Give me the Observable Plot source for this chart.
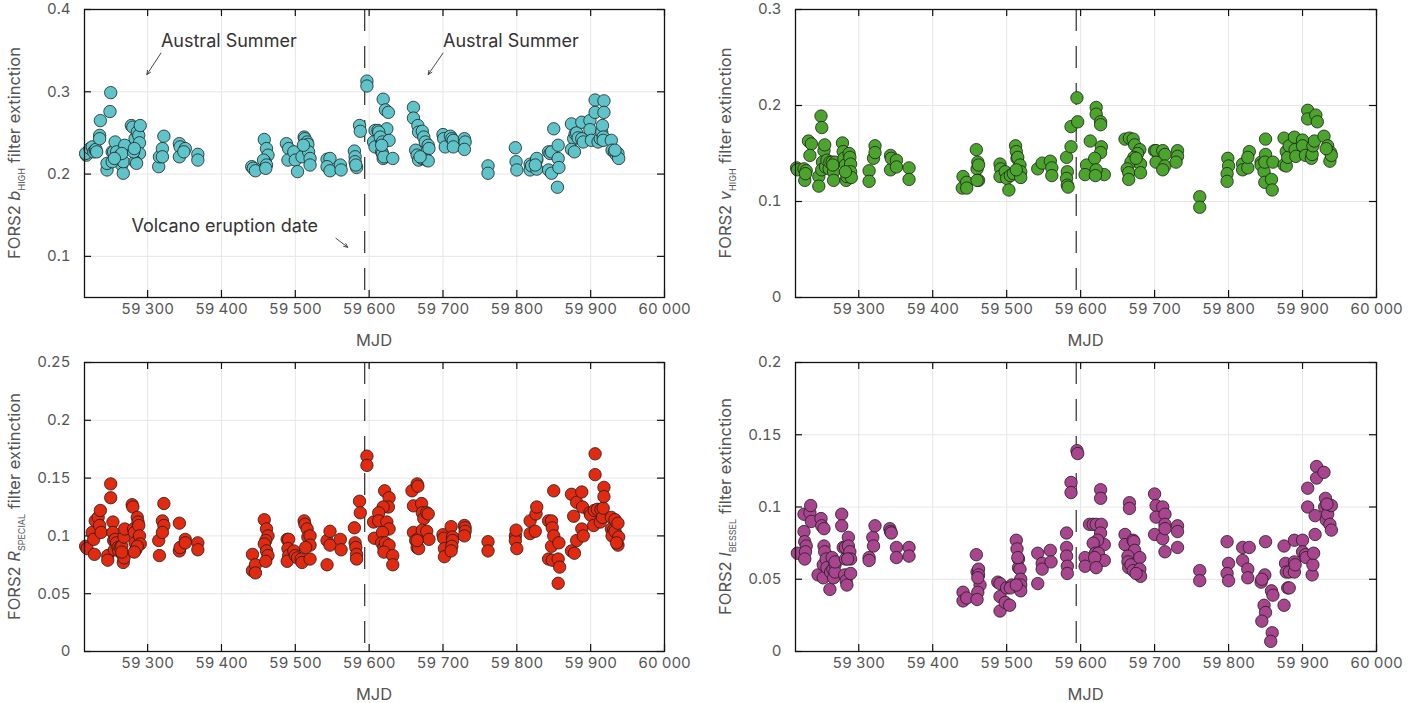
<!DOCTYPE html>
<html>
<head>
<meta charset="utf-8">
<script src="https://cdn.jsdelivr.net/npm/d3@7"></script>
<script src="https://cdn.jsdelivr.net/npm/@observablehq/plot@0.6"></script>
<style>
  html, body { margin: 0; padding: 0; background: #fff; }
  #wrap { position: relative; width: 1423px; height: 703px; overflow: hidden; }
  .panel { position: absolute; }
  .panel svg { display: block; }
</style>
</head>
<body>
<div id="wrap"></div>
<script>
// ---------- shared axis data ----------
const xTicks = [59300, 59400, 59500, 59600, 59700, 59800, 59900, 60000];
const mjdDomain = [59214.5, 60000];
const eruptionMJD = [59594];

// ---------- FORS2 b_HIGH ----------
const bHighMJD = [
59217,59216,59222,59225,59227,59229,59230,59231,59235,59236,59235,
59250,59249,59245,59245,59252,59254,59256,59258,59261,59263,59265,59267,59267,59269,59265,59252,59255,
59278,59280,59283,59286,59288,59290,59289,59289,59283,59285,59281,59282,
59315,59316,59320,59322,59320,
59343,59344,59351,59343,59349,
59368,59368,
59441,59443,59446,
59458,59461,59463,59459,59457,59461,59460,
59488,59491,59490,59498,59500,59503,59509,59512,59513,59516,59517,59518,59520,59520,59511,
59543,59547,59543,59547,59561,59562,
59580,59581,59581,59583,59582,59587,59588,59597,59597,
59619,59622,59608,59612,59606,59608,59617,59617,59619,59626,59624,59613,59615,59618,59627,59618,59620,59632,59617,
59660,59660,59666,59667,59672,59674,59676,59680,59681,59663,59665,59667,59672,59678,59680,59669,
59700,59701,59703,59710,59712,59714,59714,59729,59730,59729,
59761,59761,
59798,59799,59800,
59818,59818,59820,59827,59827,59827,59825,
59843,59845,59847,59850,59843,59847,59856,59856,59857,59855,
59874,59877,59874,59878,59879,59881,59883,59888,59888,59890,
59899,59899,59901,59906,59906,59910,59913,59915,59916,59917,59918,59918,59917,
59928,59929,59932,59935,59937,59938,59933];
const bHighExt = [
0.223,0.225,0.231,0.233,0.227,0.229,0.230,0.227,0.247,0.265,0.243,
0.299,0.276,0.205,0.213,0.227,0.227,0.239,0.227,0.221,0.215,0.211,0.201,0.215,0.235,0.225,0.215,0.219,
0.259,0.257,0.243,0.251,0.247,0.259,0.238,0.225,0.215,0.213,0.227,0.231,
0.209,0.221,0.231,0.246,0.221,
0.237,0.233,0.231,0.221,0.227,
0.224,0.217,
0.209,0.207,0.204,
0.242,0.231,0.223,0.215,0.217,0.211,0.207,
0.237,0.231,0.217,0.227,0.217,0.203,0.221,0.245,0.243,0.239,0.236,0.227,0.219,0.211,0.235,
0.218,0.219,0.209,0.204,0.211,0.205,
0.228,0.221,0.215,0.208,0.211,0.259,0.252,0.313,0.307,
0.291,0.278,0.253,0.253,0.239,0.233,0.241,0.227,0.219,0.275,0.255,0.251,0.245,0.239,0.241,0.225,0.221,0.219,0.235,
0.281,0.268,0.259,0.251,0.252,0.245,0.239,0.235,0.231,0.229,0.223,0.217,0.219,0.217,0.216,0.221,
0.248,0.243,0.233,0.246,0.243,0.241,0.233,0.243,0.239,0.230,
0.210,0.201,
0.232,0.215,0.205,
0.212,0.205,0.210,0.217,0.219,0.206,0.211,
0.227,0.225,0.227,0.255,0.205,0.201,0.235,0.219,0.208,0.184,
0.261,0.243,0.230,0.227,0.249,0.250,0.244,0.263,0.243,0.239,
0.265,0.254,0.241,0.290,0.275,0.239,0.243,0.251,0.259,0.245,0.289,0.275,0.241,
0.241,0.229,0.227,0.223,0.225,0.219,0.229];
const bHighTicks = [0.1, 0.2, 0.3, 0.4];
const bHighDomain = [0.05, 0.4];

// ---------- FORS2 v_HIGH ----------
const vHighMJD = [
59216,59217,59226,59227,59229,59228,59232,59236,59234,
59246,59246,59249,59250,59253,59254,59251,59250,59255,59257,59260,59261,59264,59266,59266,59268,59265,
59278,59279,59280,59282,59283,59284,59287,59288,59289,59289,59290,59282,
59314,59314,59320,59322,59322,
59343,59343,59344,59351,59351,
59368,59368,
59441,59440,59446,59446,
59459,59460,59461,59462,59462,59460,
59491,59492,59491,59498,59500,59503,59505,59509,59512,59513,59514,59515,59518,59519,59519,59513,
59542,59548,59559,59561,59561,
59581,59582,59581,59582,59583,59587,59587,59595,59596,
59613,59608,59606,59621,59621,59627,59627,59628,59627,59619,59632,59621,59620,
59660,59666,59671,59673,59680,59677,59672,59668,59663,59665,59665,59681,59681,59675,
59700,59702,59711,59714,59702,59714,59711,59731,59731,59729,
59761,59761,
59799,59800,59798,59798,
59819,59819,59826,59828,59826,
59844,59844,59848,59849,59850,59850,59849,59858,59859,59860,
59875,59875,59878,59878,59880,59882,59889,59890,59891,
59900,59900,59904,59907,59907,59912,59913,59914,59916,59918,59920,59929,59934,59937,59938,59939,59932];
const vHighExt = [
0.135,0.133,0.134,0.122,0.132,0.129,0.163,0.160,0.148,
0.126,0.116,0.189,0.177,0.153,0.159,0.141,0.133,0.136,0.143,0.134,0.141,0.141,0.131,0.122,0.141,0.138,
0.161,0.152,0.145,0.138,0.122,0.126,0.150,0.146,0.139,0.131,0.125,0.131,
0.132,0.121,0.145,0.158,0.151,
0.148,0.133,0.145,0.143,0.136,
0.135,0.123,
0.126,0.114,0.120,0.114,
0.154,0.134,0.141,0.138,0.122,0.122,
0.139,0.134,0.126,0.131,0.124,0.112,0.127,0.129,0.158,0.152,0.145,0.146,0.138,0.131,0.125,0.133,
0.134,0.140,0.142,0.135,0.127,
0.146,0.131,0.124,0.117,0.115,0.178,0.157,0.208,0.183,
0.163,0.138,0.128,0.198,0.191,0.183,0.180,0.157,0.151,0.145,0.128,0.133,0.127,
0.165,0.166,0.165,0.159,0.154,0.150,0.146,0.141,0.134,0.130,0.123,0.139,0.130,0.145,
0.153,0.153,0.153,0.149,0.141,0.137,0.133,0.153,0.147,0.141,
0.105,0.094,
0.145,0.137,0.129,0.121,
0.139,0.133,0.135,0.152,0.146,
0.141,0.138,0.131,0.120,0.165,0.149,0.141,0.123,0.112,0.141,
0.166,0.138,0.152,0.137,0.146,0.158,0.167,0.154,0.147,
0.164,0.158,0.148,0.195,0.186,0.145,0.149,0.158,0.163,0.190,0.183,0.168,0.158,0.142,0.151,0.148,0.155];
const vHighTicks = [0, 0.1, 0.2, 0.3];
const vHighDomain = [0, 0.3];

// ---------- FORS2 R_SPECIAL ----------
const rSpecialMJD = [
59216,59218,59225,59227,59228,59229,59233,59235,59236,59237,
59246,59246,59250,59250,59253,59253,59254,59255,59256,59258,59260,59261,59263,59265,59266,59267,59268,59268,59269,59265,
59279,59280,59281,59282,59283,59284,59286,59287,59288,59289,59290,59286,59282,
59315,59316,59320,59322,59322,59320,
59343,59343,59344,59351,59351,
59368,59368,
59442,59442,59446,59446,
59458,59461,59463,59460,59458,59461,59463,59460,
59489,59491,59490,59491,59489,59498,59500,59503,59508,59509,59512,59513,59516,59517,59520,59520,59520,59514,
59543,59543,59547,59547,59561,59562,
59580,59581,59582,59583,59583,59587,59588,59597,59597,
59606,59607,59621,59627,59626,59619,59613,59613,59624,59627,59618,59617,59620,59622,59627,59620,59632,59632,
59658,59660,59665,59666,59671,59672,59674,59678,59680,59660,59663,59665,59667,59669,59672,59678,59681,59665,
59700,59701,59702,59702,59711,59713,59713,59712,59711,59729,59730,59730,59729,
59761,59761,
59798,59798,59799,59800,
59818,59818,59825,59826,59827,
59843,59847,59848,59850,59847,59850,59843,59848,59856,59857,59858,59856,
59874,59877,59874,59878,59881,59881,59888,59889,59888,59890,
59899,59900,59904,59905,59906,59906,59909,59913,59914,59916,59917,59918,59918,
59928,59928,59931,59933,59929,59933,59937,59938,59937,59935];
const rSpecialExt = [
0.091,0.089,0.103,0.097,0.084,0.113,0.116,0.109,0.122,0.103,
0.083,0.079,0.145,0.133,0.112,0.103,0.096,0.088,0.097,0.094,0.090,0.087,0.090,0.091,0.084,0.077,0.081,0.099,0.106,0.086,
0.127,0.125,0.106,0.103,0.094,0.088,0.116,0.112,0.109,0.100,0.093,0.091,0.086,
0.096,0.083,0.113,0.109,0.128,0.103,
0.111,0.087,0.090,0.097,0.094,
0.094,0.088,
0.084,0.070,0.075,0.068,
0.114,0.106,0.100,0.096,0.093,0.087,0.083,0.078,
0.097,0.097,0.089,0.083,0.078,0.087,0.083,0.081,0.080,0.077,0.113,0.110,0.106,0.099,0.100,0.092,0.080,0.090,
0.096,0.075,0.104,0.092,0.097,0.088,
0.107,0.094,0.090,0.084,0.080,0.130,0.120,0.169,0.161,
0.112,0.098,0.139,0.133,0.125,0.125,0.120,0.113,0.112,0.106,0.103,0.094,0.090,0.094,0.092,0.086,0.083,0.075,
0.139,0.126,0.145,0.143,0.128,0.120,0.115,0.120,0.119,0.103,0.096,0.090,0.089,0.099,0.105,0.104,0.097,0.096,
0.101,0.098,0.089,0.082,0.108,0.099,0.096,0.091,0.087,0.109,0.107,0.104,0.100,
0.095,0.087,
0.100,0.096,0.105,0.089,
0.113,0.102,0.104,0.119,0.125,
0.113,0.113,0.107,0.139,0.091,0.100,0.080,0.079,0.080,0.094,0.073,0.059,
0.136,0.117,0.087,0.085,0.129,0.096,0.138,0.125,0.106,0.100,
0.120,0.118,0.109,0.122,0.171,0.153,0.123,0.112,0.123,0.116,0.124,0.142,0.134,
0.116,0.106,0.105,0.114,0.100,0.104,0.111,0.099,0.092,0.094];
const rSpecialTicks = [0, 0.05, 0.1, 0.15, 0.2, 0.25];
const rSpecialDomain = [0, 0.25];

// ---------- FORS2 I_BESSEL ----------
const iBesselMJD = [
59217,59226,59226,59227,59229,59228,59227,59234,59235,59236,
59245,59249,59250,59253,59253,59254,59252,59252,59256,59257,59261,59262,59264,59265,59266,59268,59268,59268,
59277,59277,59279,59282,59282,59281,59283,59284,59286,59286,59288,59289,59289,59285,
59314,59314,59319,59320,59322,
59342,59343,59344,59351,59351,
59368,59368,
59441,59441,59446,
59459,59460,59462,59462,59464,59461,59460,59461,
59488,59491,59491,59491,59498,59500,59504,59507,59505,59513,59514,59516,59516,59518,59519,59519,59519,59513,59515,
59542,59542,59548,59548,59559,59560,
59581,59581,59581,59582,59582,59587,59587,59595,59596,
59606,59606,59612,59627,59627,59617,59621,59628,59627,59632,59623,59617,59620,59624,59632,59619,59621,
59660,59660,59666,59666,59671,59672,59673,59664,59664,59665,59668,59671,59680,59680,59681,59675,
59700,59702,59702,59700,59711,59711,59714,59714,59714,59714,59731,59731,59731,
59761,59761,
59798,59800,59798,59800,
59819,59819,59826,59826,59828,
59844,59849,59845,59850,59858,59860,59848,59850,59845,59859,59857,
59875,59877,59878,59880,59882,59875,59882,59889,59889,59889,59890,
59900,59900,59904,59905,59907,59907,59913,59914,59915,59917,59917,59919,59919,59929,59930,59931,59932,59934,59934,59937,59939,59939,59933];
const iBesselExt = [
0.068,0.095,0.083,0.076,0.073,0.069,0.064,0.096,0.101,0.090,
0.053,0.092,0.087,0.085,0.073,0.069,0.060,0.051,0.064,0.058,0.043,0.055,0.065,0.057,0.051,0.060,0.055,0.062,
0.095,0.087,0.072,0.072,0.064,0.053,0.049,0.046,0.079,0.073,0.069,0.064,0.054,0.064,
0.065,0.063,0.079,0.073,0.087,
0.085,0.083,0.082,0.072,0.065,
0.072,0.066,
0.041,0.035,0.037,
0.067,0.055,0.057,0.053,0.046,0.041,0.036,0.051,
0.048,0.047,0.038,0.028,0.034,0.044,0.032,0.046,0.044,0.077,0.071,0.064,0.058,0.057,0.050,0.046,0.042,0.046,0.065,
0.068,0.047,0.061,0.057,0.070,0.062,
0.082,0.072,0.066,0.059,0.054,0.117,0.110,0.139,0.137,
0.065,0.059,0.088,0.112,0.106,0.088,0.088,0.088,0.082,0.074,0.077,0.075,0.068,0.068,0.063,0.065,0.058,
0.081,0.074,0.103,0.099,0.077,0.076,0.070,0.066,0.062,0.058,0.060,0.056,0.065,0.057,0.052,0.054,
0.109,0.101,0.093,0.081,0.100,0.078,0.095,0.088,0.069,0.085,0.087,0.083,0.072,
0.056,0.049,
0.076,0.061,0.054,0.049,
0.072,0.063,0.057,0.051,0.072,
0.048,0.053,0.050,0.076,0.042,0.039,0.032,0.027,0.021,0.013,0.007,
0.073,0.061,0.055,0.044,0.044,0.032,0.055,0.077,0.062,0.055,0.060,
0.077,0.069,0.067,0.065,0.113,0.100,0.053,0.060,0.068,0.081,0.094,0.128,0.120,0.124,0.100,0.106,0.091,0.101,0.095,0.088,0.101,0.084,0.102];
const iBesselTicks = [0, 0.05, 0.1, 0.15, 0.2];
const iBesselDomain = [0, 0.2];

// ---------- annotations (top-left panel) ----------
const noteText = ["Austral Summer", "Austral Summer", "Volcano eruption date"];
const noteMJD = [59318, 59700, 59278];
const noteExt = [0.362, 0.362, 0.136];
const arrowFromMJD = [59318, 59700, 59555];
const arrowFromExt = [0.347, 0.347, 0.122];
const arrowToMJD = [59299, 59680, 59571];
const arrowToExt = [0.321, 0.321, 0.111];

// ---------- rendering ----------
const FONT = "Inter, 'Liberation Sans', Arial, sans-serif";
const fmtMJD = d => d3.format(",")(d).replace(",", "\u00a0");
const fmtY = d => String(d);
const TICK = 7;

function makePanel(cfg) {
  const n = Math.min(cfg.mjd.length, cfg.ext.length);
  const data = d3.range(n).map(i => ({mjd: cfg.mjd[i], ext: cfg.ext[i]}));
  const W = cfg.width, H = 352, ML = 84, MR = 47;
  const pw = W - ML - MR;
  const marks = [
    Plot.gridX(xTicks, {stroke: "#e6e6e6", strokeOpacity: 1, strokeWidth: 1}),
    Plot.gridY(cfg.ticks, {stroke: "#e6e6e6", strokeOpacity: 1, strokeWidth: 1}),
    // inward tick marks on all four sides
    Plot.ruleX(xTicks, {stroke: "#111", strokeWidth: 1.2, insetTop: cfg.ph - TICK}),
    Plot.ruleX(xTicks, {stroke: "#111", strokeWidth: 1.2, insetBottom: cfg.ph - TICK}),
    Plot.ruleY(cfg.ticks, {stroke: "#111", strokeWidth: 1.2, insetRight: pw - TICK}),
    Plot.ruleY(cfg.ticks, {stroke: "#111", strokeWidth: 1.2, insetLeft: pw - TICK}),
    Plot.ruleX(eruptionMJD, {stroke: "#1a1a1a", strokeWidth: 1.1, strokeDasharray: "22,15", dashOffset: -5}),
    Plot.dot(data, {x: "mjd", y: "ext", r: 6.2, fill: cfg.color, fillOpacity: 1, stroke: "#1e1e1e", strokeWidth: 0.8})
  ];
  if (cfg.notes) {
    const notes = noteText.map((t, i) => ({t, x: noteMJD[i], y: noteExt[i]}));
    const arrows = arrowFromMJD.map((m, i) => ({x1: m, y1: arrowFromExt[i], x2: arrowToMJD[i], y2: arrowToExt[i]}));
    marks.push(
      Plot.arrow(arrows, {x1: "x1", y1: "y1", x2: "x2", y2: "y2", stroke: "#333", strokeWidth: 0.9, headLength: 7, headAngle: 50, bend: 0}),
      Plot.text(notes, {x: "x", y: "y", text: "t", textAnchor: "start", lineAnchor: "middle", fontSize: 18, fill: "#333"})
    );
  }
  marks.push(
    Plot.axisX(xTicks, {anchor: "bottom", tickSize: 0, tickPadding: 6, tickFormat: fmtMJD, fontSize: 15, fill: "#555", label: null}),
    Plot.axisY(cfg.ticks, {anchor: "left", tickSize: 0, tickPadding: 14, tickFormat: fmtY, fontSize: 15, fill: "#555", label: null}),
    Plot.frame({stroke: "#111", strokeWidth: 1.3})
  );
  const svgNode = Plot.plot({
    width: W, height: H,
    marginLeft: ML, marginRight: MR, marginTop: cfg.mt, marginBottom: H - cfg.mt - cfg.ph,
    style: {fontFamily: FONT, fontSize: "15px", color: "#555", background: "transparent", overflow: "visible"},
    x: {type: "linear", domain: mjdDomain},
    y: {type: "linear", domain: cfg.domain},
    marks
  });
  const svg = d3.select(svgNode);
  const cy = cfg.mt + cfg.ph / 2;
  const t = svg.append("text")
    .attr("transform", `translate(20,${cy}) rotate(-90)`)
    .attr("text-anchor", "middle")
    .attr("font-family", FONT)
    .attr("font-size", 16.5)
    .attr("fill", "#555");
  t.append("tspan").text("FORS2 ");
  t.append("tspan").attr("font-style", "italic").text(cfg.letter);
  t.append("tspan").attr("font-size", 9).attr("dy", 5).text(cfg.sub);
  t.append("tspan").attr("dy", -5).text(" filter extinction");
  svg.append("text")
    .attr("x", ML + pw / 2)
    .attr("y", cfg.mt + cfg.ph + 43)
    .attr("text-anchor", "middle")
    .attr("dominant-baseline", "central")
    .attr("font-family", FONT)
    .attr("font-size", 16.5)
    .attr("fill", "#555")
    .text("MJD");
  const div = document.createElement("div");
  div.className = "panel";
  div.style.left = cfg.left + "px";
  div.style.top = cfg.top + "px";
  div.appendChild(svgNode);
  document.getElementById("wrap").appendChild(div);
}

makePanel({mjd: bHighMJD, ext: bHighExt, ticks: bHighTicks, domain: bHighDomain, color: "#5fc4c9",
  letter: "b", sub: "HIGH", left: 0, top: 0, width: 711, mt: 9, ph: 288, notes: true});
makePanel({mjd: vHighMJD, ext: vHighExt, ticks: vHighTicks, domain: vHighDomain, color: "#4ba42c",
  letter: "v", sub: "HIGH", left: 711, top: 0, width: 712, mt: 9, ph: 288});
makePanel({mjd: rSpecialMJD, ext: rSpecialExt, ticks: rSpecialTicks, domain: rSpecialDomain, color: "#e22a10",
  letter: "R", sub: "SPECIAL", left: 0, top: 352, width: 711, mt: 10, ph: 289});
makePanel({mjd: iBesselMJD, ext: iBesselExt, ticks: iBesselTicks, domain: iBesselDomain, color: "#a9448f",
  letter: "I", sub: "BESSEL", left: 711, top: 352, width: 712, mt: 10, ph: 289});
</script>
</body>
</html>
